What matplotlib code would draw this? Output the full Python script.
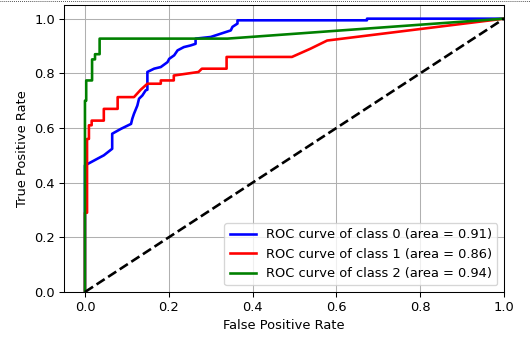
import matplotlib
matplotlib.use("Agg")
import matplotlib.pyplot as plt
from matplotlib.lines import Line2D

# ROC points per class (false positive rate, true positive rate)
fpr_0 = [0, 0, 0.029, 0.045, 0.065, 0.065, 0.086, 0.110, 0.113, 0.117, 0.125,
         0.129, 0.137, 0.145, 0.149, 0.149, 0.165, 0.181, 0.197, 0.201, 0.213,
         0.221, 0.236, 0.252, 0.264, 0.264, 0.300, 0.324, 0.336, 0.348, 0.352,
         0.364, 0.364, 0.673, 0.673, 1.0]
tpr_0 = [0, 0.463, 0.487, 0.500, 0.524, 0.579, 0.597, 0.615, 0.634, 0.652, 0.682,
         0.707, 0.719, 0.738, 0.740, 0.805, 0.817, 0.823, 0.841, 0.853, 0.866,
         0.884, 0.896, 0.902, 0.908, 0.927, 0.933, 0.945, 0.951, 0.957, 0.970,
         0.982, 0.994, 0.994, 1.0, 1.0]

fpr_1 = [0, 0, 0.005, 0.005, 0.0095, 0.0095, 0.016, 0.016, 0.045, 0.045, 0.078,
         0.078, 0.117, 0.133, 0.149, 0.181, 0.181, 0.212, 0.212, 0.271, 0.279,
         0.338, 0.338, 0.494, 0.538, 0.578, 1.0]
tpr_1 = [0, 0.29, 0.29, 0.56, 0.56, 0.61, 0.61, 0.627, 0.627, 0.67, 0.67,
         0.713, 0.713, 0.74, 0.762, 0.762, 0.774, 0.774, 0.792, 0.805, 0.817,
         0.817, 0.86, 0.86, 0.89, 0.92, 1.0]

fpr_2 = [0, 0, 0.003, 0.003, 0.017, 0.017, 0.024, 0.024, 0.035, 0.035, 0.34, 1.0]
tpr_2 = [0, 0.70, 0.70, 0.774, 0.774, 0.851, 0.851, 0.87, 0.87, 0.927, 0.927, 1.0]

roc_auc = [0.91, 0.86, 0.94]
colors = ["blue", "red", "green"]
curves = [(fpr_0, tpr_0), (fpr_1, tpr_1), (fpr_2, tpr_2)]

DPI = 94
fig = plt.figure(figsize=(530 / DPI, 338 / DPI), dpi=DPI)
ax = fig.add_axes([64 / 530, 46 / 338, 440 / 530, 287 / 338])

for i, ((fpr, tpr), c) in enumerate(zip(curves, colors)):
    ax.plot(fpr, tpr, color=c, lw=2,
            label="ROC curve of class {0} (area = {1:0.2f})".format(i, roc_auc[i]))

ax.plot([0, 1], [0, 1], "k--", lw=2)
ax.set_xlim([-0.05, 1.0])
ax.set_ylim([0.0, 1.05])
ax.set_xlabel("False Positive Rate")
ax.set_ylabel("True Positive Rate")
ax.grid(True)
ax.legend(loc="lower right")

# dotted frame edge along the top of the output area
fig.add_artist(Line2D([0, 1], [0.997, 0.997], transform=fig.transFigure,
                      color="black", lw=0.6, ls=(0, (1, 1.5))))

fig.savefig("out.png", dpi=DPI)
